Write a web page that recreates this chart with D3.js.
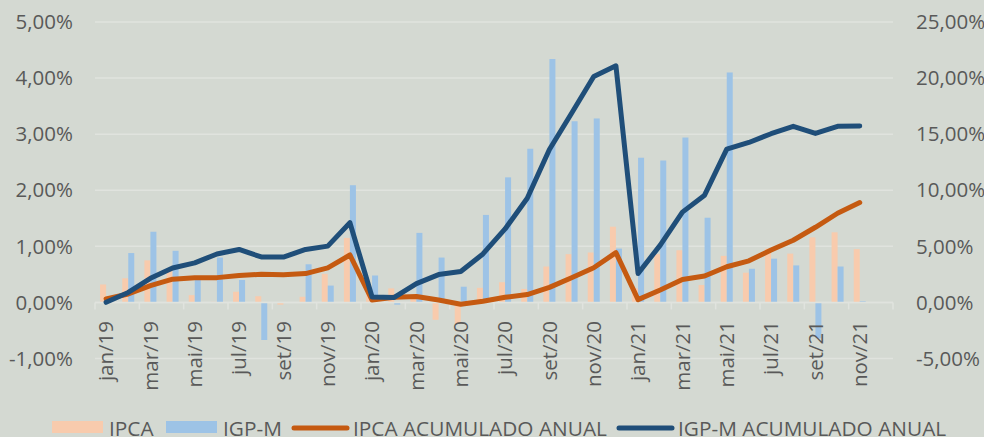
<!DOCTYPE html>
<html>
<head>
<meta charset="utf-8">
<script src="https://cdn.jsdelivr.net/npm/d3@7"></script>
<style>
  html, body { margin: 0; padding: 0; background: #d4d9d2; }
  svg { display: block; font-family: "Open Sans", "Noto Sans", sans-serif; }
</style>
</head>
<body>
<svg id="chart" width="984" height="437"></svg>
<script>
// months shown on the category axis (dez/21 slot stays empty, as in the source)
const months = [
  "jan/19","fev/19","mar/19","abr/19","mai/19","jun/19","jul/19","ago/19","set/19","out/19","nov/19","dez/19",
  "jan/20","fev/20","mar/20","abr/20","mai/20","jun/20","jul/20","ago/20","set/20","out/20","nov/20","dez/20",
  "jan/21","fev/21","mar/21","abr/21","mai/21","jun/21","jul/21","ago/21","set/21","out/21","nov/21","dez/21"
];

// monthly rates, % (left axis)
const ipca = [
  0.32, 0.43, 0.75, 0.57, 0.13, 0.01, 0.19, 0.11, -0.04, 0.10, 0.51, 1.15,
  0.21, 0.25, 0.07, -0.31, -0.38, 0.26, 0.36, 0.24, 0.64, 0.86, 0.89, 1.35,
  0.25, 0.86, 0.93, 0.31, 0.83, 0.53, 0.96, 0.87, 1.16, 1.25, 0.95, null
];
const igpm = [
  0.01, 0.88, 1.26, 0.92, 0.45, 0.80, 0.40, -0.67, -0.01, 0.68, 0.30, 2.09,
  0.48, -0.04, 1.24, 0.80, 0.28, 1.56, 2.23, 2.74, 4.34, 3.23, 3.28, 0.96,
  2.58, 2.53, 2.94, 1.51, 4.10, 0.60, 0.78, 0.66, -0.64, 0.64, 0.02, null
];

// year-to-date accumulated, % (right axis)
const ipcaAcum = [
  0.32, 0.75, 1.50, 2.07, 2.20, 2.21, 2.40, 2.51, 2.47, 2.57, 3.08, 4.23,
  0.21, 0.46, 0.53, 0.22, -0.16, 0.10, 0.46, 0.70, 1.34, 2.20, 3.09, 4.44,
  0.25, 1.11, 2.04, 2.35, 3.18, 3.71, 4.67, 5.54, 6.70, 7.95, 8.90, null
];
const igpmAcum = [
  0.01, 0.89, 2.15, 3.07, 3.52, 4.32, 4.72, 4.05, 4.04, 4.72, 5.02, 7.11,
  0.48, 0.44, 1.68, 2.48, 2.76, 4.32, 6.55, 9.29, 13.63, 16.86, 20.14, 21.10,
  2.58, 5.11, 8.05, 9.56, 13.66, 14.26, 15.04, 15.70, 15.06, 15.70, 15.72, null
];

const leftTicks = [-1, 0, 1, 2, 3, 4, 5];
const rightTicks = [-5, 0, 5, 10, 15, 20, 25];

const legendItems = [
  { label: "IPCA", kind: "bar", color: "#f8cbad", x: 52 },
  { label: "IGP-M", kind: "bar", color: "#9dc3e6", x: 166 },
  { label: "IPCA ACUMULADO ANUAL", kind: "line", color: "#c55a11", x: 294 },
  { label: "IGP-M ACUMULADO ANUAL", kind: "line", color: "#1f4e79", x: 619 }
];

const C = { ipca: "#f8cbad", igpm: "#9dc3e6", ipcaL: "#c55a11", igpmL: "#1f4e79", text: "#595959", grid: "#e0e3de" };
const fmt = (v) => d3.format(".2f")(v).replace(".", ",").replace("−", "-") + "%";

const svg = d3.select("#chart");
const plotL = 95, plotR = 893, plotT = 22, plotB = 358.5;

const x = d3.scaleBand().domain(months).range([plotL, plotR]).padding(0);
const yL = d3.scaleLinear().domain([-1, 5]).range([plotB, plotT]);
const yR = d3.scaleLinear().domain([-5, 25]).range([plotB, plotT]);

// gridlines
svg.append("g").selectAll("line").data(leftTicks).join("line")
  .attr("x1", plotL).attr("x2", plotR)
  .attr("y1", (d) => yL(d)).attr("y2", (d) => yL(d))
  .attr("stroke", C.grid).attr("stroke-width", 1.5);

// left axis labels
svg.append("g").selectAll("text").data(leftTicks).join("text")
  .attr("x", 73).attr("y", (d) => yL(d)).attr("dy", "0.35em")
  .attr("text-anchor", "end").attr("font-size", 20.5).attr("fill", C.text)
  .text(fmt);

// right axis labels (the source crops these at the right edge too)
svg.append("g").selectAll("text").data(rightTicks).join("text")
  .attr("x", 916).attr("y", (d) => yR(d)).attr("dy", "0.35em")
  .attr("text-anchor", "start").attr("font-size", 20.5).attr("fill", C.text)
  .text(fmt);

// bars: IPCA left of the category centre, IGP-M right of it
const bw = 6;
const bars = svg.append("g");
bars.selectAll("rect.ipca").data(months.map((m, i) => ({ m, v: ipca[i] })).filter((d) => d.v != null))
  .join("rect").attr("class", "ipca")
  .attr("x", (d) => x(d.m) + x.bandwidth() / 2 - bw)
  .attr("width", bw)
  .attr("y", (d) => yL(Math.max(0, d.v)))
  .attr("height", (d) => Math.abs(yL(d.v) - yL(0)))
  .attr("fill", C.ipca);
bars.selectAll("rect.igpm").data(months.map((m, i) => ({ m, v: igpm[i] })).filter((d) => d.v != null))
  .join("rect").attr("class", "igpm")
  .attr("x", (d) => x(d.m) + x.bandwidth() / 2)
  .attr("width", bw)
  .attr("y", (d) => yL(Math.max(0, d.v)))
  .attr("height", (d) => Math.abs(yL(d.v) - yL(0)))
  .attr("fill", C.igpm);

// category axis: baseline at 0 with ticks every two months
const xAxis = svg.append("g").attr("transform", `translate(0,${yL(0)})`);
xAxis.append("line").attr("x1", plotL).attr("x2", plotR).attr("stroke", C.grid).attr("stroke-width", 1.5);
const tickIdx = d3.range(0, months.length + 1, 2);
xAxis.selectAll("line.tick").data(tickIdx).join("line").attr("class", "tick")
  .attr("x1", (i) => plotL + i * x.step()).attr("x2", (i) => plotL + i * x.step())
  .attr("y1", 0).attr("y2", 7).attr("stroke", C.grid).attr("stroke-width", 1.5);

// rotated month labels, every other month
svg.append("g").selectAll("text").data(months.filter((m, i) => i % 2 === 0 && i < 35)).join("text")
  .attr("transform", (m) => `translate(${x(m) + x.bandwidth() / 2},321) rotate(-90)`)
  .attr("dy", "0.35em").attr("text-anchor", "end")
  .attr("font-size", 20.5).attr("fill", C.text).text((m) => m);

// accumulated lines on the right axis
const line = d3.line()
  .defined((d) => d.v != null)
  .x((d) => x(d.m) + x.bandwidth() / 2)
  .y((d) => yR(d.v));
svg.append("path").datum(months.map((m, i) => ({ m, v: ipcaAcum[i] })))
  .attr("d", line).attr("fill", "none").attr("stroke", C.ipcaL)
  .attr("stroke-width", 5).attr("stroke-linejoin", "round").attr("stroke-linecap", "round");
svg.append("path").datum(months.map((m, i) => ({ m, v: igpmAcum[i] })))
  .attr("d", line).attr("fill", "none").attr("stroke", C.igpmL)
  .attr("stroke-width", 5).attr("stroke-linejoin", "round").attr("stroke-linecap", "round");

// legend (sits on the bottom edge, as in the source)
const lg = svg.append("g");
legendItems.forEach((it) => {
  if (it.kind === "bar") {
    lg.append("rect").attr("x", it.x).attr("y", 421).attr("width", 51).attr("height", 12).attr("fill", it.color);
  } else {
    lg.append("line").attr("x1", it.x).attr("x2", it.x + 53).attr("y1", 428).attr("y2", 428)
      .attr("stroke", it.color).attr("stroke-width", 5).attr("stroke-linecap", "round");
  }
  lg.append("text").attr("x", it.kind === "bar" ? it.x + 57 : it.x + 59).attr("y", 435.5)
    .attr("font-size", 20.8).attr("fill", C.text).text(it.label);
});
</script>
</body>
</html>
